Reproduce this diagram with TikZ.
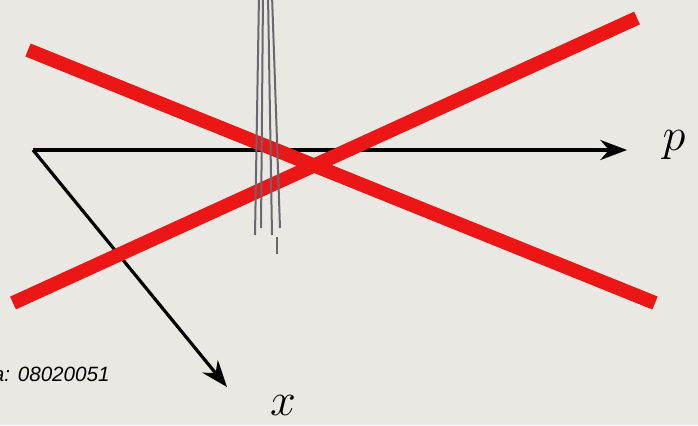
\documentclass[tikz,border=0pt]{standalone}
\usepackage{fontspec}
\newfontfamily\arialfont{Liberation Sans}
\usetikzlibrary{arrows.meta}
\definecolor{bgc}{RGB}{234,232,226}
\definecolor{redc}{RGB}{236,22,22}
\definecolor{grayc}{RGB}{105,103,112}
\tikzset{
  redbar/.style={draw=redc, line width=10.5pt},
  axis/.style={draw=black, line width=2.4pt, -{Stealth[length=20pt,width=15pt]}},
  ray/.style={draw=grayc, line width=1.5pt},
  lbl/.style={font=\fontsize{24.88}{30}\selectfont, inner sep=0pt}
}
\begin{document}
\begin{tikzpicture}[x=0.75pt,y=-0.75pt]
\fill[bgc] (0,0) rectangle (698,425);
\useasboundingbox (0,0) rectangle (698,425);
\clip (0,0) rectangle (698,425);
% axes
\coordinate (o) at (33,150);
\coordinate (pend) at (627,150);
\coordinate (xend) at (227,387);
\draw[axis] (o) -- (pend);
\draw[axis] (o) -- (xend);
% red bars
\coordinate (a1) at (28,50);
\coordinate (a2) at (655,303);
\coordinate (b1) at (13,303);
\coordinate (b2) at (637,18);
\draw[redbar] (a1) -- (a2);
\draw[redbar] (b1) -- (b2);
% gray rays
\coordinate (r1t) at (259,-5); \coordinate (r1b) at (255,235);
\coordinate (r2t) at (263,-5); \coordinate (r2b) at (261,228);
\coordinate (r3t) at (268,-5); \coordinate (r3b) at (272,235);
\coordinate (r4t) at (272,-5); \coordinate (r4b) at (280,228);
\coordinate (r5t) at (277,237); \coordinate (r5b) at (277,254);
\draw[ray] (r1t) -- (r1b);
\draw[ray] (r2t) -- (r2b);
\draw[ray] (r3t) -- (r3b);
\draw[ray] (r4t) -- (r4b);
\draw[ray] (r5t) -- (r5b);
% labels
\node[lbl] (plbl) at (674,145) {\scalebox{1.4}{$p$}};
\node[lbl] (xlbl) at (283,405) {\scalebox{1.4}{$x$}};
\node[font=\arialfont\itshape\fontsize{15.5}{18}\selectfont, inner sep=0pt, anchor=base east] (code) at (110,381) {a: 08020051};
\end{tikzpicture}
\end{document}
